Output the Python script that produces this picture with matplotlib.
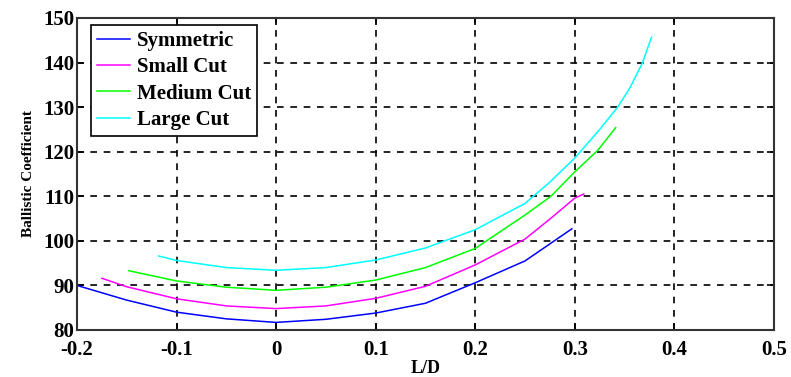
import matplotlib.pyplot as plt

# L/D vs ballistic coefficient for each nose cut
x_sym = [-0.2, -0.15, -0.1, -0.05, 0, 0.05, 0.1, 0.15, 0.2, 0.25, 0.297]
y_sym = [90.0, 86.7, 84.0, 82.5, 81.7, 82.4, 83.8, 86.0, 90.6, 95.5, 102.7]

x_small = [-0.175, -0.15, -0.1, -0.05, 0, 0.05, 0.1, 0.15, 0.2, 0.25, 0.275, 0.3, 0.309]
y_small = [91.6, 89.7, 87.0, 85.4, 84.8, 85.4, 87.1, 89.8, 94.6, 100.4, 104.9, 109.6, 110.5]

x_med = [-0.148, -0.1, -0.05, 0, 0.05, 0.1, 0.15, 0.2, 0.25, 0.276, 0.3, 0.323, 0.341]
y_med = [93.3, 91.0, 89.6, 88.9, 89.6, 91.2, 94.0, 98.3, 105.8, 110.0, 115.5, 120.3, 125.4]

x_large = [-0.118, -0.1, -0.05, 0, 0.05, 0.1, 0.15, 0.2, 0.25, 0.275, 0.3, 0.325,
           0.343, 0.355, 0.368, 0.377]
y_large = [96.6, 95.6, 94.0, 93.4, 94.0, 95.7, 98.4, 102.5, 108.4, 113.2, 118.6, 125.0,
           130.0, 134.2, 140.0, 145.7]

xticks = [-0.2, -0.1, 0, 0.1, 0.2, 0.3, 0.4, 0.5]
xticklabels = ['-0.2', '-0.1', '0', '0.1', '0.2', '0.3', '0.4', '0.5']
yticks = [80, 90, 100, 110, 120, 130, 140, 150]

plt.rcParams['font.family'] = ['Liberation Serif', 'DejaVu Serif']
plt.rcParams['font.weight'] = 'bold'

fig = plt.figure(figsize=(7.91, 3.77), dpi=100)
ax = fig.add_axes([0.0973, 0.1247, 0.8812, 0.8276])

ax.plot(x_sym, y_sym, color='#0000ff', lw=1.1, label='Symmetric')
ax.plot(x_small, y_small, color='#ff00ff', lw=1.1, label='Small Cut')
ax.plot(x_med, y_med, color='#00ff00', lw=1.1, label='Medium Cut')
ax.plot(x_large, y_large, color='#00ffff', lw=1.1, label='Large Cut')

ax.set_xlim(-0.2, 0.5)
ax.set_ylim(80, 150)
ax.set_xticks(xticks)
ax.set_xticklabels(xticklabels)
ax.set_yticks(yticks)
ax.grid(True, color='black', linestyle=(0, (4, 4)), linewidth=1.2)
ax.tick_params(direction='in', length=5, width=1.2, top=True, right=True,
               labelsize=15, pad=2)
ax.tick_params(axis='x', pad=7)
for s in ax.spines.values():
    s.set_linewidth(1.5)
    s.set_color('#333333')

ax.set_xlabel('L/D', fontsize=13, fontweight='bold', labelpad=0)
ax.set_ylabel('Ballistic Coefficient', fontsize=11, fontweight='bold', labelpad=6)

leg = ax.legend(loc='upper left', bbox_to_anchor=(0.02, 0.978), fontsize=15,
                fancybox=False, framealpha=1, edgecolor='black',
                handlelength=1.6, handletextpad=0.3, labelspacing=0.3,
                borderpad=0.3, borderaxespad=0)
leg.get_frame().set_linewidth(1.2)

fig.savefig('out.png', dpi=100)
